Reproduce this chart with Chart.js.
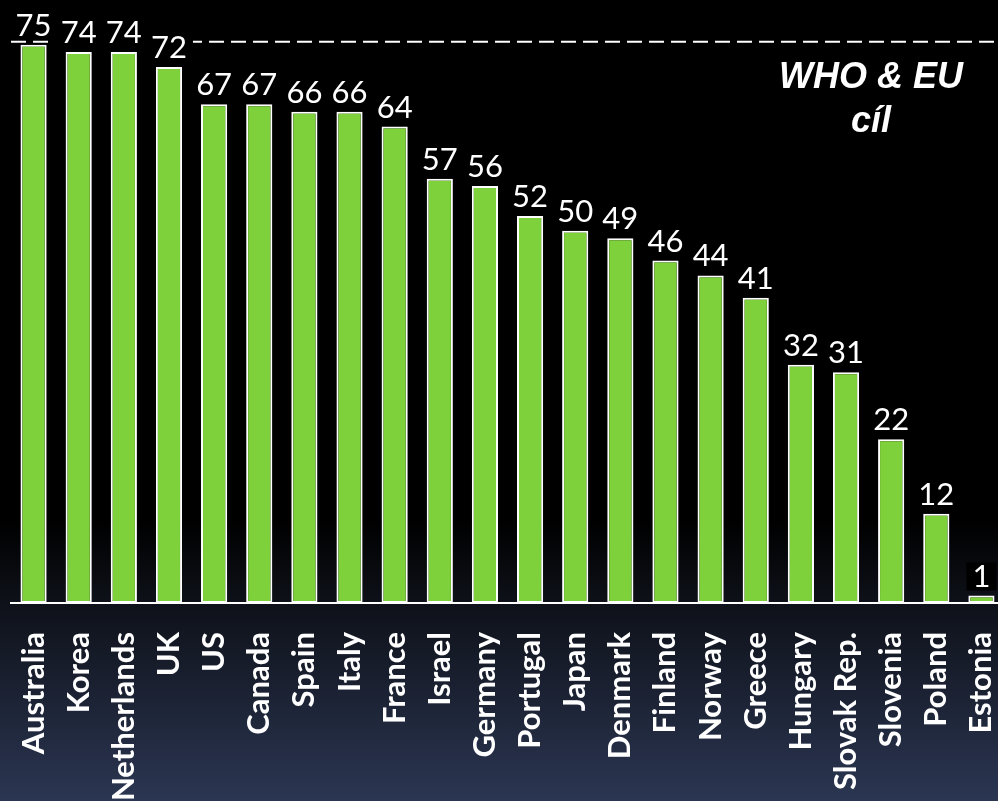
<!DOCTYPE html>
<html>
<head>
<meta charset="utf-8">
<script src="https://cdn.jsdelivr.net/npm/chart.js@4.4.1/dist/chart.umd.min.js"></script>
<style>
  html, body { margin:0; padding:0; width:998px; height:801px; overflow:hidden; }
  body { background: linear-gradient(to bottom, #000 0px, #000 520px, #0e1119 603px, #2b3652 801px); }
  canvas { display:block; }
</style>
</head>
<body>
<canvas id="c" width="1004" height="801"></canvas>
<script>
const categories = ["Australia","Korea","Netherlands","UK","US","Canada","Spain","Italy","France","Israel","Germany","Portugal","Japan","Denmark","Finland","Norway","Greece","Hungary","Slovak Rep.","Slovenia","Poland","Estonia"];
const values = [75,74,74,72,67,67,66,66,64,57,56,52,50,49,46,44,41,32,31,22,12,1];
const goalValue = 75;
const goalLabel = ["WHO & EU", "cíl"];

const overlay = {
  id: 'overlay',
  beforeDatasetsDraw(chart) {
    const {ctx, chartArea, scales} = chart;
    const y = scales.y.getPixelForValue(goalValue) - 3;
    ctx.save();
    ctx.strokeStyle = '#fff';
    ctx.lineWidth = 2;
    ctx.setLineDash([15, 7]);
    ctx.beginPath();
    ctx.moveTo(chartArea.left, y);
    ctx.lineTo(chartArea.right, y);
    ctx.stroke();
    ctx.restore();
  },
  afterDatasetsDraw(chart) {
    const {ctx} = chart;
    const meta = chart.getDatasetMeta(0);
    ctx.save();
    ctx.font = '31px Lato';
    ctx.textAlign = 'center';
    ctx.textBaseline = 'alphabetic';
    meta.data.forEach((bar, i) => {
      const txt = String(values[i]);
      const w = ctx.measureText(txt).width;
      const by = bar.y - 9;
      ctx.fillStyle = '#000';
      ctx.fillRect(bar.x - w/2 - 6, by - 24, w + 12, 28);
      ctx.fillStyle = '#fff';
      ctx.fillText(txt, bar.x, by);
    });
    ctx.font = 'italic bold 36px "Liberation Sans"';
    ctx.fillStyle = '#fff';
    const cx = 871;
    ctx.fillText(goalLabel[0], cx, 88);
    ctx.fillText(goalLabel[1], cx, 132);
    ctx.restore();
  }
};

new Chart(document.getElementById('c'), {
  type: 'bar',
  data: {
    labels: categories,
    datasets: [{
      data: values,
      backgroundColor: '#7fd13b',
      borderColor: '#ffffff',
      borderWidth: 2,
      borderSkipped: false,
      barPercentage: 0.58,
      categoryPercentage: 1.0
    }]
  },
  options: {
    responsive: false,
    animation: false,
    layout: { padding: { left: 11, right: 0, top: 0, bottom: 0 } },
    plugins: { legend: { display: false }, tooltip: { enabled: false } },
    scales: {
      y: { display: false, min: 0, max: 81 },
      x: {
        afterFit(scale) { scale.height = 198; scale.paddingLeft = 0; scale.paddingRight = 0; },
        grid: { display: false, drawTicks: false },
        border: { display: true, color: '#ffffff', width: 2 },
        ticks: {
          color: '#ffffff',
          font: { family: 'Lato', weight: 'bold', size: 31 },
          minRotation: 90, maxRotation: 90,
          padding: 29,
          autoSkip: false
        }
      }
    }
  },
  plugins: [overlay]
});
</script>
</body>
</html>
